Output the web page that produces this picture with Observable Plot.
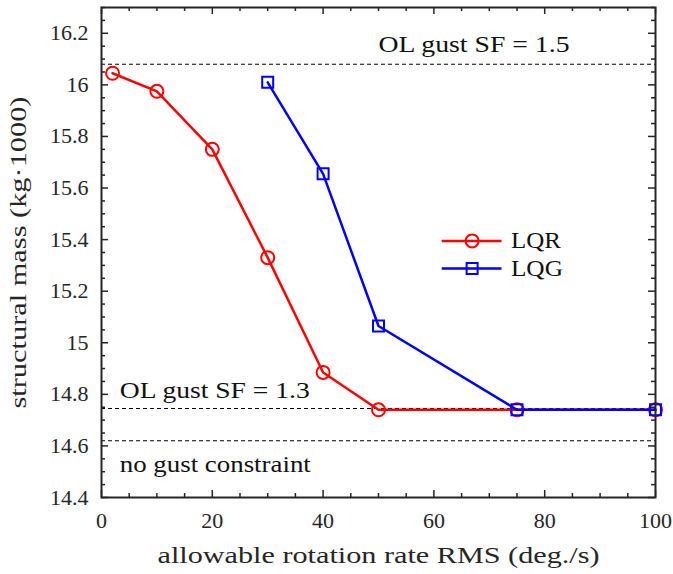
<!DOCTYPE html>
<html>
<head>
<meta charset="utf-8">
<script src="https://cdn.jsdelivr.net/npm/d3@7"></script>
<script src="https://cdn.jsdelivr.net/npm/@observablehq/plot@0.6"></script>
<style>
  html, body { margin: 0; padding: 0; background: #fff; }
  #chart svg { display: block; }
</style>
</head>
<body>
<div id="chart"></div>
<script>
// ---- data ----
const lqrRate = [2, 10, 20, 30, 40, 50, 75, 100];
const lqrMass = [16.045, 15.975, 15.75, 15.33, 14.885, 14.74, 14.74, 14.74];
const lqgRate = [30, 40, 50, 75, 100];
const lqgMass = [16.01, 15.655, 15.065, 14.74, 14.74];

const refNames = ["OL gust SF = 1.5", "OL gust SF = 1.3", "no gust constraint"];
const refMass = [16.08, 14.745, 14.62];
const refLabelX = [50, 3.3, 3.3];
const refLabelY = [16.155, 14.815, 14.53];

const xTicks = [0, 20, 40, 60, 80, 100];
const yTicks = [14.4, 14.6, 14.8, 15, 15.2, 15.4, 15.6, 15.8, 16, 16.2];
const xMinorAll = d3.range(0, 101, 5);
const yMinorAll = d3.range(0, 39).map(i => +(14.4 + i * 0.05).toFixed(2));

const legendNames = ["LQR", "LQG"];
const legendY = [15.395, 15.288];
const legendX = [61.5, 66.9, 72.3, 73.9]; // line start, marker, line end, text

const xLabel = "allowable rotation rate RMS (deg./s)";
const yLabel = "structural mass (kg·1000)";

// ---- build tables ----
const lqr = lqrRate.map((x, i) => ({x, y: lqrMass[i]}));
const lqg = lqgRate.map((x, i) => ({x, y: lqgMass[i]}));
const refs = refNames.map((name, i) => ({name, y: refMass[i], lx: refLabelX[i], ly: refLabelY[i]}));

const W = 673, H = 574;
const mL = 101, mR = 18, mT = 7, mB = 77;
const pw = W - mL - mR, ph = H - mT - mB;
const font = "'Liberation Serif', 'DejaVu Serif', serif";
const ink = "#262626";
const majorLen = 7, minorLen = 4;

const xMinor = xMinorAll.filter(v => !xTicks.includes(v));
const yMinor = yMinorAll.filter(v => !yTicks.some(t => Math.abs(t - v) < 1e-6));

const red = "#ff0000", blue = "#0000ff";
const tickStyle = {stroke: ink, strokeWidth: 1.5};

const chart = Plot.plot({
  width: W,
  height: H,
  marginLeft: mL,
  marginRight: mR,
  marginTop: mT,
  marginBottom: mB,
  style: {fontFamily: font, fontSize: "22px", color: "#262626", background: "#fff", overflow: "visible"},
  x: {domain: [0, 100]},
  y: {domain: [14.4, 16.3]},
  marks: [
    // reference dashed lines
    Plot.ruleY(refs, {y: "y", stroke: "#000", strokeWidth: 1, strokeDasharray: "4,3"}),
    Plot.text(refs, {x: "lx", y: "ly", text: "name", textAnchor: "start", fontSize: 23.5, fontFamily: font, fill: "#111"}),
    // series
    Plot.line(lqr, {x: "x", y: "y", stroke: red, strokeWidth: 2.5}),
    Plot.dot(lqr, {x: "x", y: "y", stroke: red, strokeWidth: 2, r: 6.5, fill: "none"}),
    Plot.line(lqg, {x: "x", y: "y", stroke: blue, strokeWidth: 2.5}),
    Plot.dot(lqg, {x: "x", y: "y", stroke: blue, strokeWidth: 2, r: 6.2, symbol: "square", fill: "none"}),
    // legend
    Plot.ruleY([0, 1], {y: i => legendY[i], x1: legendX[0], x2: legendX[2], stroke: i => [red, blue][i], strokeWidth: 2.5}),
    Plot.dot([0], {x: legendX[1], y: legendY[0], r: 6.5, stroke: red, strokeWidth: 2, fill: "none"}),
    Plot.dot([1], {x: legendX[1], y: legendY[1], r: 6.2, symbol: "square", stroke: blue, strokeWidth: 2, fill: "none"}),
    Plot.text([0, 1], {x: legendX[3], y: i => legendY[i], text: i => legendNames[i], textAnchor: "start", fontSize: 23.5, fontFamily: font, fill: "#111"}),
    // inward ticks (bottom, top, left, right)
    Plot.ruleX(xTicks, {x: d => d, insetTop: ph - majorLen, ...tickStyle}),
    Plot.ruleX(xMinor, {x: d => d, insetTop: ph - minorLen, ...tickStyle}),
    Plot.ruleX(xTicks, {x: d => d, insetBottom: ph - majorLen, ...tickStyle}),
    Plot.ruleX(xMinor, {x: d => d, insetBottom: ph - minorLen, ...tickStyle}),
    Plot.ruleY(yTicks, {y: d => d, insetRight: pw - majorLen, ...tickStyle}),
    Plot.ruleY(yMinor, {y: d => d, insetRight: pw - minorLen, ...tickStyle}),
    Plot.ruleY(yTicks, {y: d => d, insetLeft: pw - majorLen, ...tickStyle}),
    Plot.ruleY(yMinor, {y: d => d, insetLeft: pw - minorLen, ...tickStyle}),
    Plot.frame({stroke: ink, strokeWidth: 2}),
    Plot.axisX({ticks: xTicks, tickSize: 0, tickPadding: 15, tickFormat: d => String(d), fontSize: 22, fontFamily: font, fill: "#262626",
      label: xLabel, labelAnchor: "center", labelArrow: "none", labelOffset: 65}),
    Plot.axisY({ticks: yTicks, tickSize: 0, tickPadding: 13, tickFormat: d => String(+d.toFixed(1)), fontSize: 22, fontFamily: font, fill: "#262626",
      label: yLabel, labelAnchor: "center", labelArrow: "none", labelOffset: 92})
  ]
});

// widen the serif text to the proportions of the original (Computer Modern is wider than Times)
const targetWidths = new Map([
  [xLabel, 442], [yLabel, 312],
  ["OL gust SF = 1.5", 191], ["OL gust SF = 1.3", 190], ["no gust constraint", 191],
  ["LQR", 50], ["LQG", 52]
]);
chart.querySelectorAll("text, g").forEach(el => el.setAttribute("font-family", font));
chart.querySelectorAll("text").forEach(t => {
  t.style.fontFamily = font;
  const s = t.textContent;
  if (targetWidths.has(s)) {
    t.setAttribute("textLength", targetWidths.get(s));
    t.setAttribute("lengthAdjust", "spacingAndGlyphs");
  }
  if (s === xLabel || s === yLabel) t.setAttribute("font-size", "23.5");
});
document.getElementById("chart").appendChild(chart);
</script>
</body>
</html>
